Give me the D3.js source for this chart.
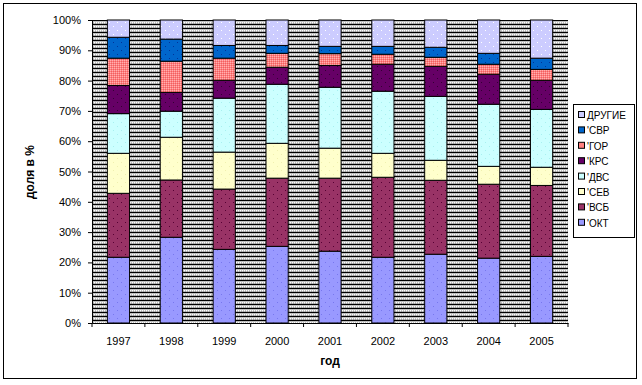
<!DOCTYPE html>
<html><head><meta charset="utf-8">
<script src="https://cdn.jsdelivr.net/npm/d3@7"></script>
<style>body{margin:0;background:#fff}svg{display:block;font-family:"Liberation Sans",Arial,sans-serif}</style>
</head><body><svg id="c" width="642" height="385"></svg>
<script>
const years = ["1997","1998","1999","2000","2001","2002","2003","2004","2005"];
const seriesNames = ["'ОКТ","'ВСБ","'СЕВ","'ДВС","'КРС","'ГОР","'СВР","ДРУГИЕ"];
const OKT    = [21.7,28.3,24.3,25.3,23.7,21.7,22.7,21.4,22.0];
const VSB    = [21.1,18.9,19.9,22.5,24.1,26.4,24.4,24.4,23.4];
const SEV    = [13.2,14.1,12.2,11.5,9.9,7.9,6.6,5.9,6.0];
const DVS    = [13.1,8.6,17.8,19.5,20.1,20.5,21.1,20.5,19.1];
const KRS    = [9.3,6.2,5.9,5.6,7.2,8.9,9.9,9.9,9.6];
const GOR    = [9.0,10.3,7.3,4.6,3.9,3.3,3.0,3.3,3.6];
const SVR    = [6.9,7.3,4.2,2.6,2.4,2.6,3.3,3.6,3.7];
const OTHER  = [5.7,6.3,8.4,8.4,8.7,8.7,9.0,11.0,12.6];
const yTicks = [0,0.1,0.2,0.3,0.4,0.5,0.6,0.7,0.8,0.9,1.0];

const seriesArr = [OKT,VSB,SEV,DVS,KRS,GOR,SVR,OTHER];
const colors = ["#9999FF","#993366","#FFFFCC","#CCFFFF","#660066","#FF8080","#0066CC","#CCCCFF"];
const dotColors = ["#7777ee","#550033","#f0f0b0","#a8f0f0","#330033","#ffb0b0","#003399","#ffffff"];

const table = years.map((y,i)=>{const o={year:y}; seriesNames.forEach((s,k)=>o[s]=seriesArr[k][i]); return o;});
const stack = d3.stack().keys(seriesNames).offset(d3.stackOffsetExpand)(table);

const svg = d3.select("#c");
const defs = svg.append("defs");
// background pattern
const bg = defs.append("pattern").attr("id","bgp").attr("patternUnits","userSpaceOnUse").attr("width",4).attr("height",4);
bg.append("rect").attr("width",4).attr("height",4).attr("fill","#c0c0c0");
bg.append("rect").attr("width",4).attr("height",1).attr("y",0).attr("fill","#000");
bg.append("rect").attr("x",0).attr("y",2).attr("width",1).attr("height",1).attr("fill","#fff");
bg.append("rect").attr("x",2).attr("y",2).attr("width",1).attr("height",1).attr("fill","#fff");
bg.append("rect").attr("x",1).attr("y",3).attr("width",1).attr("height",1).attr("fill","#999");
bg.append("rect").attr("x",3).attr("y",3).attr("width",1).attr("height",1).attr("fill","#999");
// series patterns
seriesNames.forEach((s,k)=>{
  const p = defs.append("pattern").attr("id","sp"+k).attr("patternUnits","userSpaceOnUse");
  if (k===5){
    p.attr("width",2).attr("height",2);
    p.append("rect").attr("width",2).attr("height",2).attr("fill",colors[k]);
    p.append("rect").attr("width",1).attr("height",1).attr("fill","#ffb0b0");
    p.append("rect").attr("x",1).attr("y",1).attr("width",1).attr("height",1).attr("fill","#f06060");
  } else {
    p.attr("width",8).attr("height",8);
    p.append("rect").attr("width",8).attr("height",8).attr("fill",colors[k]);
    p.append("rect").attr("x",1).attr("y",2).attr("width",1).attr("height",1).attr("fill",dotColors[k]);
    p.append("rect").attr("x",5).attr("y",6).attr("width",1).attr("height",1).attr("fill",dotColors[k]);
  }
});

// outer frame
svg.append("rect").attr("x",3.5).attr("y",3.5).attr("width",633).attr("height",375).attr("fill","#fff").attr("stroke","#000");

const L=92, R=568, T=20, B=323;
const x = d3.scaleBand().domain(years).range([L,R]).paddingInner(0.58).paddingOuter(0.29);
const y = d3.scaleLinear().domain([0,1]).range([B,T]);

svg.append("rect").attr("x",L).attr("y",T).attr("width",R-L).attr("height",B-T).attr("fill","url(#bgp)");

const g = svg.append("g");
stack.forEach((layer,k)=>{
  g.selectAll(null).data(layer).enter().append("rect")
    .attr("x",d=>x(d.data.year)).attr("width",x.bandwidth())
    .attr("y",d=>y(d[1])).attr("height",d=>y(d[0])-y(d[1]))
    .attr("fill","url(#sp"+k+")").attr("stroke","#000").attr("stroke-width",1);
});

// y axis
const ya = svg.append("g").attr("transform",`translate(${L},0)`)
  .call(d3.axisLeft(y).tickValues(yTicks).tickFormat(d3.format(".0%")).tickSize(4).tickPadding(7));
ya.select(".domain").attr("stroke","#000");
ya.selectAll("text").attr("font-size",11).attr("fill","#000").attr("font-family","Liberation Sans, Arial");

// x axis
const xa = svg.append("g").attr("transform",`translate(0,${B})`)
  .call(d3.axisBottom(x).tickSize(0).tickPadding(14));
xa.select(".domain").attr("stroke","#000");
xa.selectAll("text").attr("font-size",11).attr("fill","#000").attr("font-family","Liberation Sans, Arial");
// ticks at band boundaries
const step = x.step();
const bounds = d3.range(years.length+1).map(i=>L+i*(R-L)/years.length);
svg.append("g").selectAll("line").data(bounds).enter().append("line")
  .attr("x1",d=>d).attr("x2",d=>d).attr("y1",B).attr("y2",B+4).attr("stroke","#000");

// titles
svg.append("text").attr("x",330).attr("y",365).attr("text-anchor","middle").attr("font-size",12).attr("font-weight","bold").text("год");
svg.append("text").attr("transform","translate(34,172) rotate(-90)").attr("text-anchor","middle").attr("font-size",12).attr("font-weight","bold").text("доля в %");

// legend
const lg = svg.append("g");
lg.append("rect").attr("x",573.5).attr("y",104.5).attr("width",61).attr("height",133).attr("fill","#fff").attr("stroke","#000");
const legendOrder = seriesNames.map((s,k)=>k).reverse();
legendOrder.forEach((k,i)=>{
  const yy = 115 + i*15.4;
  lg.append("rect").attr("x",578.5).attr("y",yy-3.5).attr("width",6).attr("height",6).attr("fill",colors[k]).attr("stroke","#000");
  lg.append("text").attr("x",587).attr("y",yy+4).attr("font-size",10).attr("fill","#000").text(seriesNames[k]);
});
</script></body></html>
